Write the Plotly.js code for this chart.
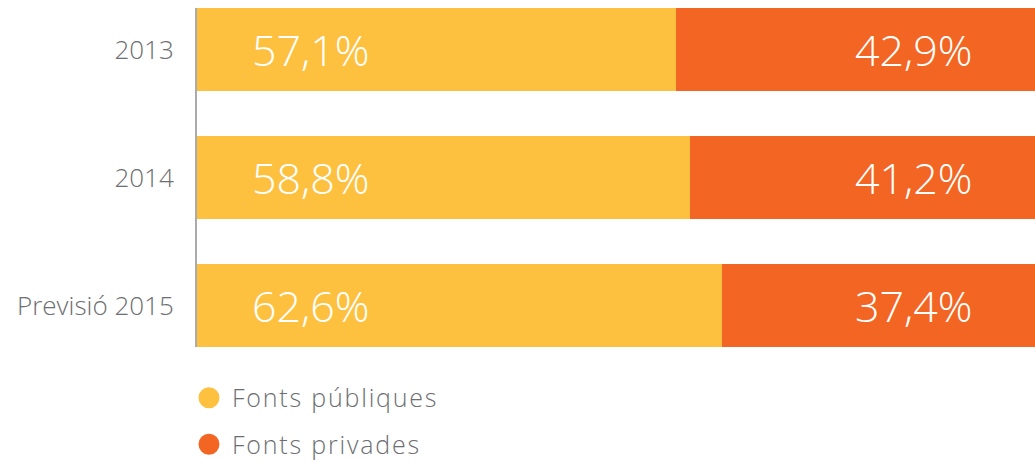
<!DOCTYPE html>
<html>
<head>
<meta charset="utf-8">
<script src="https://cdn.plot.ly/plotly-3.0.1.min.js"></script>
<style>
html,body{margin:0;padding:0;background:#fff;}
#chart{width:1035px;height:461px;}
.legendtext{letter-spacing:1.8px;}
</style>
</head>
<body>
<div id="chart"></div>
<script>
var categories = ["2013", "2014", "Previsió 2015"];
var publicValues = [57.1, 58.8, 62.6];
var privateValues = [42.9, 41.2, 37.4];
var seriesNames = ["Fonts públiques", "Fonts privades"];
var colors = ["#FDC13F", "#F26522"];

function fmt(v) { return v.toFixed(1).replace(".", ",") + "%"; }

var textFont = {family: "Open Sans, sans-serif", size: 43, color: "#ffffff", weight: 300};
var grayText = "#6D6E71";

var traces = [
  {type: "bar", orientation: "h", y: categories, x: publicValues, marker: {color: colors[0]},
   showlegend: false, hoverinfo: "none", width: 0.65},
  {type: "bar", orientation: "h", y: categories, x: privateValues, marker: {color: colors[1]},
   showlegend: false, hoverinfo: "none", width: 0.65},
  {type: "scatter", mode: "markers", x: [null], y: [null], name: seriesNames[0],
   marker: {color: colors[0], size: 16, symbol: "circle", line: {color: colors[0], width: 5}}, legendgroup: "a"},
  {type: "scatter", mode: "markers", x: [null], y: [null], name: seriesNames[1],
   marker: {color: colors[1], size: 16, symbol: "circle", line: {color: colors[1], width: 5}}, legendgroup: "b"}
];

var annotations = [];
categories.forEach(function (c, i) {
  annotations.push({x: 0, y: i, xref: "x", yref: "y", text: fmt(publicValues[i]), showarrow: false,
    xanchor: "left", yanchor: "middle", xshift: 53, font: textFont});
  annotations.push({x: 100, y: i, xref: "x", yref: "y", text: fmt(privateValues[i]), showarrow: false,
    xanchor: "right", yanchor: "middle", xshift: -60, font: textFont});
});

var layout = {
  width: 1035, height: 461,
  margin: {l: 197, r: 0, t: 8, b: 114, pad: 0, autoexpand: false},
  paper_bgcolor: "#ffffff", plot_bgcolor: "#ffffff",
  barmode: "stack",
  showlegend: true,
  xaxis: {range: [0, 100], showgrid: false, zeroline: false, showticklabels: false, showline: false, fixedrange: true},
  yaxis: {type: "category", categoryorder: "array", categoryarray: categories,
    range: [2.325, -0.325], showgrid: false, zeroline: false, automargin: false,
    showline: true, linecolor: "#ABABAB", linewidth: 2, ticks: "", ticklabelstandoff: 16,
    tickfont: {family: "Open Sans, sans-serif", size: 26, color: grayText, weight: 300}},
  legend: {xref: "container", yref: "container", x: 0.1797, xanchor: "left", y: 0.1866, yanchor: "top",
    orientation: "v", itemwidth: 36,
    font: {family: "Open Sans, sans-serif", size: 25, color: grayText, weight: 300},
    tracegroupgap: 11, itemsizing: "trace", bgcolor: "rgba(0,0,0,0)"},
  annotations: annotations
};

Plotly.newPlot("chart", traces, layout, {displayModeBar: false, staticPlot: true});
</script>
</body>
</html>
